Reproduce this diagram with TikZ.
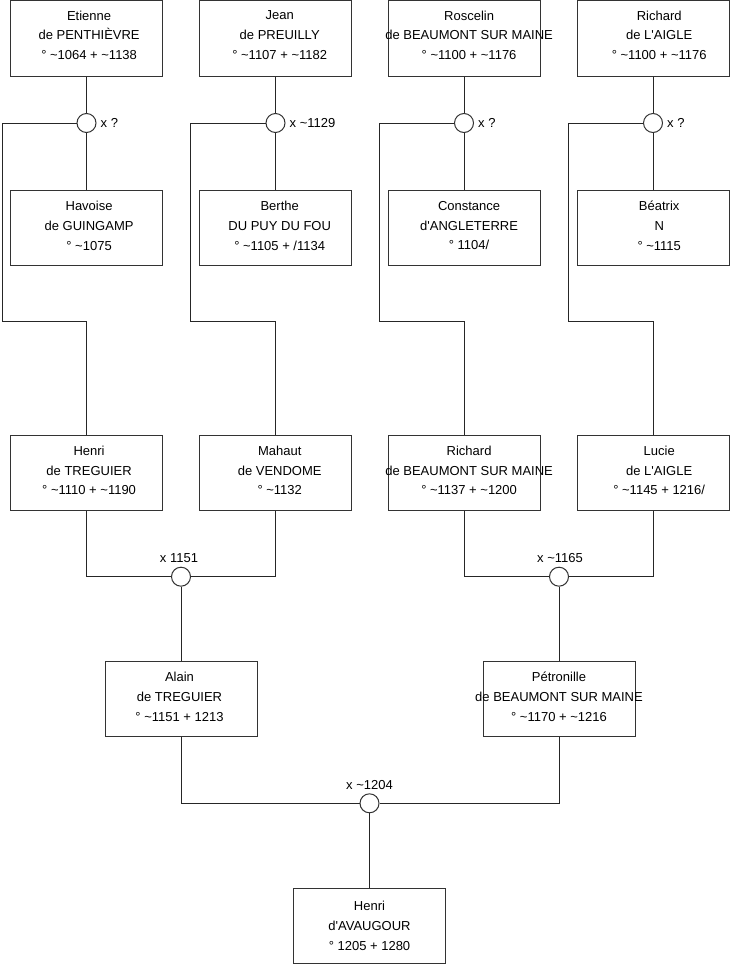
\documentclass[tikz,border=0pt]{standalone}
\usepackage{fontspec}
\setmainfont{Liberation Sans}
\newcommand\ap{\textquotesingle}
\tikzset{
  pbox/.style={draw=black!80, line width=1pt, minimum width=152pt, minimum height=75.5pt, inner sep=0pt},
  ptxt/.style={align=center, font=\fontsize{13pt}{19.7pt}\selectfont, inner sep=0pt},
  marr/.style={circle, draw=black!80, line width=1pt, minimum size=19pt, inner sep=0pt, fill=white},
  mlab/.style={font=\fontsize{13pt}{15pt}\selectfont, inner sep=0pt},
  link/.style={draw=black!85, line width=1pt},
}
% #1 name, #2 x, #3 y (centre), #4 text dx, #5 text dy (up), #6 text
\newcommand\pers[6]{%
  \node[pbox] (#1) at (#2,#3) {};
  \node[ptxt] (#1t) at ([xshift=#4pt,yshift=#5pt]#1.center) {#6};}
\begin{document}
\begin{tikzpicture}[x=1pt,y=-1pt]
\useasboundingbox (0,0) rectangle (740,975);
% row 1
\pers{etienne}{86.5}{38.25}{2.6}{3}{Etienne\\de PENTHIÈVRE\\° \textasciitilde1064 + \textasciitilde1138}
\pers{jean}{275.5}{38.25}{4.2}{3}{Jean\\de PREUILLY\\° \textasciitilde1107 + \textasciitilde1182}
\pers{roscelin}{464}{38.25}{5.1}{3}{Roscelin\\de BEAUMONT SUR MAINE\\° \textasciitilde1100 + \textasciitilde1176}
\pers{richardA}{653}{38.25}{6.2}{3}{Richard\\de L\ap AIGLE\\° \textasciitilde1100 + \textasciitilde1176}
% row 2
\pers{havoise}{86.5}{227.75}{2.6}{2}{Havoise\\de GUINGAMP\\° \textasciitilde1075}
\pers{berthe}{275.5}{227.75}{4.2}{2}{Berthe\\DU PUY DU FOU\\° \textasciitilde1105 + /1134}
\pers{constance}{464}{227.75}{5.1}{2}{Constance\\d\ap ANGLETERRE\\° 1104/}
\pers{beatrix}{653}{227.75}{6.2}{2}{Béatrix\\N\\° \textasciitilde1115}
% row 3
\pers{henriT}{86.5}{473}{2.6}{2.5}{Henri\\de TREGUIER\\° \textasciitilde1110 + \textasciitilde1190}
\pers{mahaut}{275.5}{473}{4.2}{2.5}{Mahaut\\de VENDOME\\° \textasciitilde1132}
\pers{richardB}{464}{473}{5.1}{2.5}{Richard\\de BEAUMONT SUR MAINE\\° \textasciitilde1137 + \textasciitilde1200}
\pers{lucie}{653}{473}{6.2}{2.5}{Lucie\\de L\ap AIGLE\\° \textasciitilde1145 + 1216/}
% row 4
\pers{alain}{181}{699.2}{-1.5}{2.3}{Alain\\de TREGUIER\\° \textasciitilde1151 + 1213}
\pers{petronille}{559}{699.2}{0}{2.3}{Pétronille\\de BEAUMONT SUR MAINE\\° \textasciitilde1170 + \textasciitilde1216}
% row 5
\pers{henriA}{369.5}{925.8}{0}{0}{Henri\\d\ap AVAUGOUR\\° 1205 + 1280}

% marriage circles
\node[marr] (m1) at (86.5,123) {};
\node[marr] (m2) at (275.5,123) {};
\node[marr] (m3) at (464,123) {};
\node[marr] (m4) at (653,123) {};
\node[marr] (m5) at (181,576.7) {};
\node[marr] (m6) at (559,576.7) {};
\node[marr] (m7) at (369.5,803.3) {};

% bend points
\coordinate (k1) at (2,321.7);
\coordinate (k2) at (190.7,321.7);
\coordinate (k3) at (379,321.7);
\coordinate (k4) at (568.5,321.7);

% connectors, top generation
\foreach \p/\m/\s/\k/\c in {etienne/m1/havoise/k1/henriT, jean/m2/berthe/k2/mahaut, roscelin/m3/constance/k3/richardB, richardA/m4/beatrix/k4/lucie}{
  \draw[link] (\p.south) -- (\m.north);
  \draw[link] (\m.south) -- (\s.north);
  \draw[link] (\m.west) -| (\k) -| (\c.north);
}
% second generation
\draw[link] (henriT.south) |- (m5.west);
\draw[link] (mahaut.south) |- (m5.east);
\draw[link] (m5.south) -- (alain.north);
\draw[link] (richardB.south) |- (m6.west);
\draw[link] (lucie.south) |- (m6.east);
\draw[link] (m6.south) -- (petronille.north);
% third generation
\draw[link] (alain.south) |- (m7.west);
\draw[link] (petronille.south) |- (m7.east);
\draw[link] (m7.south) -- (henriA.north);

% marriage labels
\node[mlab, anchor=west] (l1) at ([xshift=4pt]m1.east) {x ?};
\node[mlab, anchor=west] (l2) at ([xshift=4pt]m2.east) {x \textasciitilde1129};
\node[mlab, anchor=west] (l3) at ([xshift=4pt]m3.east) {x ?};
\node[mlab, anchor=west] (l4) at ([xshift=4pt]m4.east) {x ?};
\node[mlab] (l5) at ([xshift=-2pt,yshift=19pt]m5.center) {x 1151};
\node[mlab] (l6) at ([xshift=1pt,yshift=19pt]m6.center) {x \textasciitilde1165};
\node[mlab] (l7) at ([yshift=18.5pt]m7.center) {x \textasciitilde1204};
\end{tikzpicture}
\end{document}
